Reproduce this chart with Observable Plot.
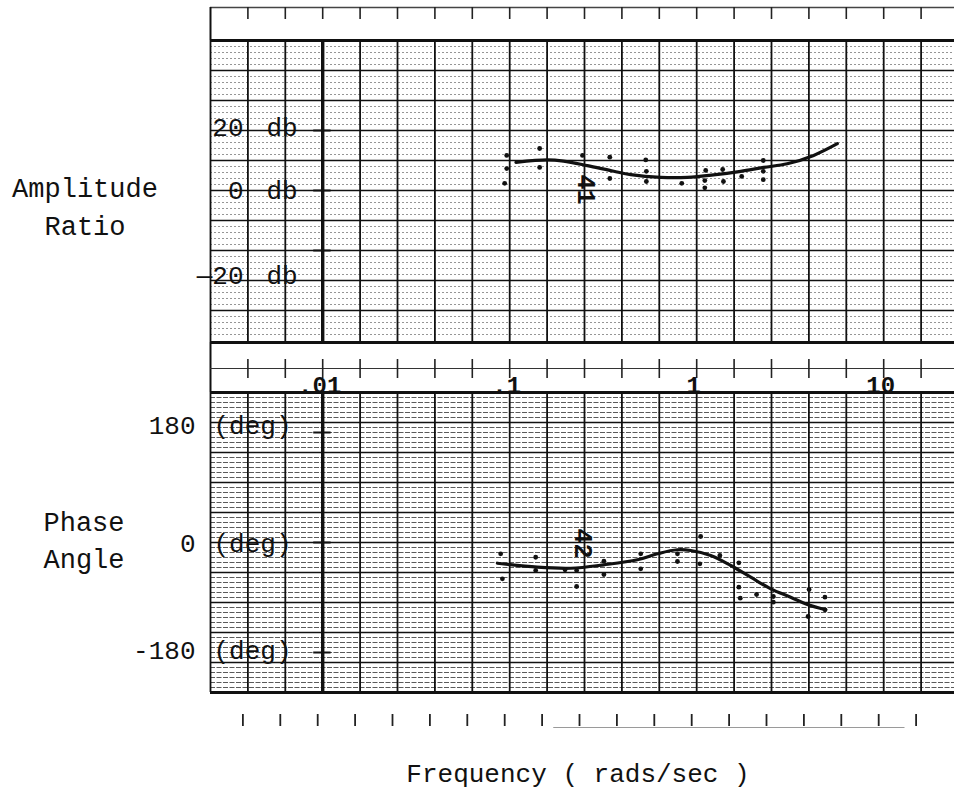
<!DOCTYPE html>
<html>
<head>
<meta charset="utf-8">
<script src="https://cdn.jsdelivr.net/npm/d3@7"></script>
<script src="https://cdn.jsdelivr.net/npm/@observablehq/plot@0.6"></script>
<style>
  body { margin: 0; background: #fff; }
  #root { position: relative; width: 954px; height: 797px; overflow: hidden; background: #fff;
          font-family: "Liberation Mono", "DejaVu Sans Mono", monospace; color: #111; }
  #root svg { position: absolute; left: 0; }
  .lbl { position: absolute; text-align: center; white-space: pre; }
</style>
</head>
<body>
<div id="root"></div>
<script>
// ---------------- data ----------------
// Amplitude ratio (db): faired curve and measured points
const ampCurveFreq = [0.108, 0.159, 0.194, 0.260, 0.360, 0.444, 0.642, 0.891, 1.23, 1.72, 2.28, 3.05, 4.22, 5.65];
const ampCurveDb   = [9.4, 10.2, 9.8, 8.3, 6.4, 5.3, 4.4, 4.4, 5.2, 6.4, 7.7, 8.9, 11.7, 15.6];
const ampPointFreq = [0.0964, 0.094, 0.0964, 0.1446, 0.1446, 0.245, 0.343, 0.343, 0.534, 0.538, 0.538, 0.832, 1.117, 1.105, 1.105, 1.377, 1.39, 1.74, 2.27, 2.27, 2.27];
const ampPointDb   = [11.7, 2.4, 7.3, 14.0, 7.7, 11.7, 11.1, 4.0, 10.2, 6.4, 3.0, 2.4, 6.7, 3.3, 0.9, 7.0, 3.0, 4.7, 10.0, 6.4, 3.6];

// Phase angle (deg): faired curve and measured points
const phaseCurveFreq = [0.0859, 0.1406, 0.212, 0.319, 0.482, 0.617, 0.788, 0.929, 1.188, 1.52, 1.945, 2.49, 3.18, 3.91, 4.90];
const phaseCurveDeg  = [-33.9, -40.4, -42.1, -36.5, -28.3, -18.5, -11.9, -13.1, -21.3, -37.6, -56.8, -75.8, -89.5, -101.5, -110.1];
const phasePointFreq = [0.0895, 0.0914, 0.1377, 0.1377, 0.1977, 0.228, 0.228, 0.319, 0.319, 0.502, 0.502, 0.789, 0.789, 1.05, 1.04, 1.33, 1.68, 1.68, 1.71, 2.09, 2.57, 2.57, 3.99, 3.94, 4.85, 4.85];
const phasePointDeg  = [-18.5, -59.4, -24.1, -45.8, -44.7, -45.8, -72.0, -30.6, -52.4, -18.5, -43.0, -18.5, -31.1, 9.8, -34.9, -21.3, -33.2, -73.1, -91.1, -85.1, -88.4, -97.7, -76.9, -121.1, -89.5, -110.1];

// hand-written run labels
const ampNote = ["41"];   const ampNoteFreq = [0.255];   const ampNoteDb = [0.3];
const phaseNote = ["42"]; const phaseNoteFreq = [0.2456]; const phaseNoteDeg = [-1.6];

// axis labels
const ampTicks = [20, 0, -20];
const ampTickLabels = ["20", "0", "\u201420"];
const ampUnit = "db";
const phaseTicks = [180, 0, -180];
const phaseTickLabels = ["180", "0", "-180"];
const phaseUnit = "(deg)";
const decades = [0.01, 0.1, 1, 10];
const decadeLabels = [".01", ".1", "1", "10"];

const titleAmp = "Amplitude\nRatio";
const titlePhase = "Phase\nAngle";
const titleX = "Frequency ( rads/sec )";

// ---------------- rendering ----------------
const root = document.getElementById("root");
const FONT = "Liberation Mono, DejaVu Sans Mono, monospace";
const W = 954, ML = 210;
const cellPx = 37.4;                     // one grid cell = 0.2 decade
const gridFreq = d3.range(20).map(k => 10 ** (-2.6 + 0.2 * k));
const xDomain = [10 ** -2.6, 10 ** (-2.6 + 0.2 * (W - ML) / cellPx)];
const X = () => ({type: "log", domain: xDomain, axis: null});
const base = {width: W, marginLeft: ML, marginRight: 0};
const tickHalf = (a, b) => ({x1: 0.01 / 10 ** a, x2: 0.01 * 10 ** b});

function place(svg, top) {
  svg.style.position = "absolute";
  svg.style.top = top + "px";
  svg.style.left = "0px";
  svg.style.background = "transparent";
  svg.style.overflow = "visible";
  svg.style.maxWidth = "none";
  root.appendChild(svg);
}

// top tick row
place(Plot.plot({
  ...base, height: 40, marginTop: 7, marginBottom: 0, x: X(), y: {domain: [0, 1], axis: null},
  marks: [
    Plot.ruleY([1], {stroke: "#444", strokeWidth: 1.5}),
    Plot.ruleX([xDomain[0]], {strokeWidth: 2, stroke: "#111"}),
    Plot.ruleX(gridFreq.slice(1), {strokeWidth: 1.6, stroke: "#222", insetBottom: 21})
  ]
}), 0);

// amplitude panel
const ampPts = ampPointFreq.map((f, i) => ({f, v: ampPointDb[i]}));
const ampLine = ampCurveFreq.map((f, i) => ({f, v: ampCurveDb[i]}));
const ampNudge = {"20": -3, "0": 0, "-20": 25};
place(Plot.plot({
  ...base, height: 302, marginTop: 0, marginBottom: 2, x: X(), y: {domain: [-50, 50], axis: null},
  marks: [
    Plot.ruleY(d3.range(-50, 51, 2).filter(v => v % 10), {stroke: "#8a8a8a", strokeWidth: 0.9, strokeDasharray: "2,2"}),
    Plot.ruleY(d3.range(-40, 41, 10), {stroke: "#111", strokeWidth: 1.5}),
    Plot.ruleX(gridFreq, {stroke: "#111", strokeWidth: 1.8, insetBottom: -2}),
    Plot.ruleX([0.01], {stroke: "#111", strokeWidth: 3.4, insetBottom: -2}),
    Plot.ruleY([50], {stroke: "#111", strokeWidth: 3}),
    Plot.ruleY([-50], {stroke: "#111", strokeWidth: 3, dy: 2}),
    Plot.ruleY(ampTicks, {...tickHalf(0.048, 0.045), stroke: "#111", strokeWidth: 2}),
    ...ampTicks.map((v, i) => Plot.text([v], {y: d => d, text: () => ampTickLabels[i], frameAnchor: "left",
      dx: 33, dy: ampNudge[String(v)], textAnchor: "end", fontSize: 26, fontFamily: FONT, fill: "#111"})),
    ...ampTicks.map(v => Plot.text([v], {y: d => d, text: () => ampUnit, frameAnchor: "left",
      dx: 56, dy: ampNudge[String(v)], textAnchor: "start", fontSize: 26, fontFamily: FONT, fill: "#111"})),
    Plot.line(ampLine, {x: "f", y: "v", curve: "catmull-rom", stroke: "#111", strokeWidth: 3.2}),
    Plot.dot(ampPts, {x: "f", y: "v", r: 2.4, fill: "#111"}),
    Plot.text(ampNote, {x: ampNoteFreq, y: ampNoteDb, text: d => d, rotate: 90, fontSize: 25, fontFamily: FONT, fontWeight: "bold", fill: "#111"})
  ]
}), 40);

// middle tick row with decade labels
place(Plot.plot({
  ...base, height: 50, marginTop: 26, marginBottom: 0, x: X(), y: {domain: [0, 1], axis: null},
  marks: [
    Plot.ruleX([xDomain[0]], {insetTop: -26, strokeWidth: 2, stroke: "#111"}),
    Plot.ruleY([1], {stroke: "#333", strokeWidth: 1.2}),
    Plot.ruleX(gridFreq.slice(1), {insetTop: -9, insetBottom: 14, strokeWidth: 1.6, stroke: "#222"}),
    Plot.text(decades, {x: d => d, text: (d, i) => decadeLabels[i], frameAnchor: "top", dy: 7, dx: -3,
      fontSize: 24, fontWeight: "bold", fontFamily: FONT, fill: "#111"})
  ]
}), 342);

// phase panel
const phaseHalf = 180 * 150 / 110;        // 180 deg mark sits 110 px above zero
const phaseMajor = d3.range(11).map(i => -phaseHalf + i * phaseHalf / 5);
const phaseMinor = d3.range(61).filter(i => i % 6).map(i => -phaseHalf + i * phaseHalf / 30);
const phPts = phasePointFreq.map((f, i) => ({f, v: phasePointDeg[i]}));
const phLine = phaseCurveFreq.map((f, i) => ({f, v: phaseCurveDeg[i]}));
const phNudge = {"180": -7, "0": 1, "-180": -2};
place(Plot.plot({
  ...base, height: 300, marginTop: 0, marginBottom: 0, x: X(), y: {domain: [-phaseHalf, phaseHalf], axis: null},
  marks: [
    Plot.ruleY(phaseMinor, {stroke: "#5a5a5a", strokeWidth: 1, strokeDasharray: "5,1.5"}),
    Plot.ruleY(phaseMajor, {stroke: "#111", strokeWidth: 1.5}),
    Plot.ruleX(gridFreq, {stroke: "#111", strokeWidth: 1.8}),
    Plot.ruleX([0.01], {stroke: "#111", strokeWidth: 3.4}),
    Plot.ruleY([-phaseHalf, phaseHalf], {stroke: "#111", strokeWidth: 3}),
    Plot.ruleY(phaseTicks, {...tickHalf(0.048, 0.045), stroke: "#111", strokeWidth: 2}),
    ...phaseTicks.map((v, i) => Plot.text([v], {y: d => d, text: () => phaseTickLabels[i], frameAnchor: "left",
      dx: -15, dy: phNudge[String(v)], textAnchor: "end", fontSize: 26, fontFamily: FONT, fill: "#111"})),
    ...phaseTicks.map(v => Plot.text([v], {y: d => d, text: () => phaseUnit, frameAnchor: "left",
      dx: 3, dy: phNudge[String(v)], textAnchor: "start", fontSize: 26, fontFamily: FONT, fill: "#111"})),
    Plot.line(phLine, {x: "f", y: "v", curve: "catmull-rom", stroke: "#111", strokeWidth: 3.2}),
    Plot.dot(phPts, {x: "f", y: "v", r: 2.4, fill: "#111"}),
    Plot.text(phaseNote, {x: phaseNoteFreq, y: phaseNoteDeg, text: d => d, rotate: 90, fontSize: 25, fontFamily: FONT, fontWeight: "bold", fill: "#111"})
  ]
}), 392);

// bottom tick row
place(Plot.plot({
  ...base, height: 60, marginTop: 22, marginBottom: 26, x: X(), y: {domain: [0, 1], axis: null},
  marks: [
    Plot.ruleX(gridFreq.slice(1), {dx: -5, strokeWidth: 1.8, stroke: "#222"}),
    Plot.ruleY([0], {x1: 0.172, x2: 13, dy: 1, stroke: "#9a9a9a", strokeWidth: 1.2})
  ]
}), 692);

// titles
function label(text, cx, top, size, lh) {
  const d = document.createElement("div");
  d.className = "lbl";
  d.textContent = text;
  d.style.fontSize = size + "px";
  d.style.lineHeight = lh + "px";
  d.style.width = "400px";
  d.style.left = (cx - 200) + "px";
  d.style.top = top + "px";
  root.appendChild(d);
}
label(titleAmp, 85, 171, 27, 38);
label(titlePhase, 84, 506, 27, 37);
label(titleX, 578, 757, 26, 36);
</script>
</body>
</html>
